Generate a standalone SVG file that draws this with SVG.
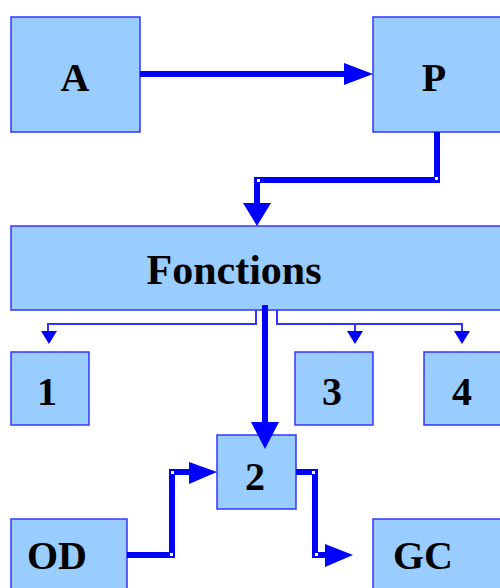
<svg xmlns="http://www.w3.org/2000/svg" width="500" height="588" viewBox="0 0 500 588">
<style>
.box{fill:#99ccff;stroke:#3333ff;stroke-width:1.5}
.lbl{font-family:"Liberation Serif","Times New Roman",serif;font-weight:bold;font-size:40px;fill:#000;text-anchor:middle}
.big{font-size:42px}
.thick{fill:none;stroke:#0000ff;stroke-width:6}
.thin{fill:none;stroke:#3333ff;stroke-width:2}
.head{fill:#0000ff}
.dot{fill:#fff}
</style>
<rect width="500" height="588" fill="#fff"/>
<g id="A"><rect class="box" x="11" y="17" width="129" height="115"/><text class="lbl" x="75" y="91">A</text></g>
<g id="P"><rect class="box" x="373" y="17" width="130" height="115"/><text class="lbl" x="434" y="91">P</text></g>
<g id="Fonctions"><rect class="box" x="11" y="226" width="492" height="84"/><text class="lbl big" x="234" y="284">Fonctions</text></g>
<g id="n1"><rect class="box" x="11" y="352" width="78" height="73"/><text class="lbl" x="47" y="405">1</text></g>
<g id="n3"><rect class="box" x="295" y="352" width="78" height="73"/><text class="lbl" x="332" y="405">3</text></g>
<g id="n4"><rect class="box" x="424" y="352" width="79" height="73"/><text class="lbl" x="462" y="405">4</text></g>
<g id="n2"><rect class="box" x="217" y="435" width="79" height="74"/><text class="lbl" x="255" y="490">2</text></g>
<g id="OD"><rect class="box" x="11" y="519" width="116" height="75"/><text class="lbl" x="57" y="569">OD</text></g>
<g id="GC"><rect class="box" x="373" y="519" width="130" height="75"/><text class="lbl" x="423" y="569">GC</text></g>
<g id="connectors">
<path class="thick" d="M140 74H346"/>
<polygon class="head" points="344,63 373,74 344,85"/>
<path class="thick" d="M437 132V180H257V205"/>
<polygon class="head" points="243,203 271,203 257,226"/>
<rect class="dot" x="435" y="177" width="3" height="3"/>
<rect class="dot" x="257" y="179" width="3" height="3"/>
<path class="thin" d="M256 310V324H48V332M277 310V324H462V332M355 324V332"/>
<polygon class="head" points="41,331 57,331 49,344"/>
<polygon class="head" points="347,331 363,331 355,344"/>
<polygon class="head" points="454,331 470,331 462,344"/>
<path class="thick" d="M265 305V425"/>
<polygon class="head" points="251,422 279,422 265,449"/>
<path class="thick" d="M127 555H172V472H192"/>
<polygon class="head" points="189,462 217,472 189,484"/>
<rect class="dot" x="170" y="553" width="3" height="3"/>
<rect class="dot" x="171" y="471" width="3" height="3"/>
<path class="thick" d="M296 472H315V555H328"/>
<polygon class="head" points="325,544 353,555 325,567"/>
<rect class="dot" x="312" y="471" width="3" height="3"/>
<rect class="dot" x="315" y="553" width="3" height="3"/>
</g>
</svg>
